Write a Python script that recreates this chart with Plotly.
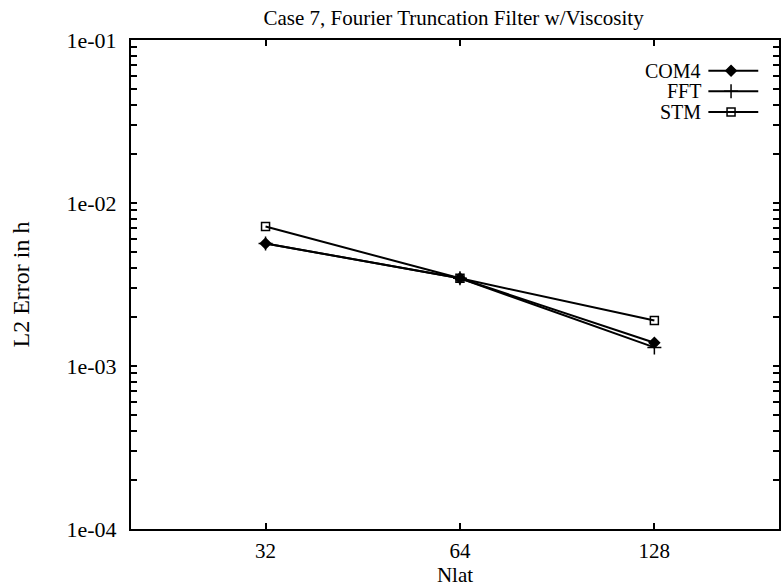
import plotly.graph_objects as go

# ---- data ----
nlat = [32, 64, 128]
com4 = [5.65e-3, 3.45e-3, 1.39e-3]
fft = [5.65e-3, 3.45e-3, 1.30e-3]
stm = [7.18e-3, 3.45e-3, 1.90e-3]
series_names = ["COM4", "FFT", "STM"]
series_symbols = ["diamond", "cross-thin", "square-open"]
x_ticks = [32, 64, 128]
y_ticks = [1e-4, 1e-3, 1e-2, 1e-1]
y_ticktext = ["1e-04", "1e-03", "1e-02", "1e-01"]
y_minor = [m * 10.0 ** e for e in (-4, -3, -2) for m in range(2, 10)]

FONT = "Liberation Serif"
BLACK = "black"

fig = go.Figure()
series = [com4, fft, stm]
for name, vals, sym in zip(series_names, series, series_symbols):
    fig.add_trace(go.Scatter(
        x=nlat, y=vals, mode="lines+markers", name=name, showlegend=False,
        line=dict(color=BLACK, width=2),
        marker=dict(symbol=sym, size=8 if sym != "cross-thin" else 10, color=BLACK,
                    line=dict(color=BLACK, width=1.5)),
    ))

# custom gnuplot-style legend (text left, sample right) on an overlay axis
for i, (name, sym) in enumerate(zip(series_names, series_symbols)):
    yy = 0.937 - i * 0.042
    fig.add_trace(go.Scatter(
        x=[0.891, 0.968], y=[yy, yy], mode="lines", xaxis="x2", yaxis="y2",
        line=dict(color=BLACK, width=2), showlegend=False, hoverinfo="skip"))
    fig.add_trace(go.Scatter(
        x=[0.926], y=[yy], mode="markers", xaxis="x2", yaxis="y2",
        marker=dict(symbol=sym, size=8 if sym != "cross-thin" else 10, color=BLACK,
                    line=dict(color=BLACK, width=1.5)),
        showlegend=False, hoverinfo="skip"))
    fig.add_annotation(x=0.883, y=yy, xref="x2", yref="y2", text=name,
                       showarrow=False, xanchor="right", yanchor="middle",
                       font=dict(family=FONT, size=20, color=BLACK))

# all y ticks (major + minor) on one axis; minor ones get empty labels
y_all = y_ticks + y_minor
y_all_text = y_ticktext + [""] * len(y_minor)

fig.update_layout(
    width=782, height=587,
    margin=dict(l=131, r=1, t=40, b=58),
    paper_bgcolor="white", plot_bgcolor="white",
    font=dict(family=FONT, size=21, color=BLACK),
    title=dict(text="Case 7, Fourier Truncation Filter w/Viscosity",
               x=0.58, xanchor="center", y=0.97, yanchor="middle",
               font=dict(family=FONT, size=21, color=BLACK)),
    xaxis=dict(
        type="log", range=[1.2968, 2.3002],
        tickvals=x_ticks, ticktext=[str(v) for v in x_ticks],
        ticks="inside", ticklen=6, tickwidth=1.5, tickcolor=BLACK,
        ticklabelstandoff=2,
        showline=True, linecolor=BLACK, linewidth=2, mirror="allticks",
        showgrid=False, zeroline=False,
        title=dict(text="Nlat", standoff=3, font=dict(family=FONT, size=21)),
        tickfont=dict(family=FONT, size=21),
    ),
    yaxis=dict(
        type="log", range=[-4, -1],
        tickmode="array", tickvals=y_all, ticktext=y_all_text,
        ticks="inside", ticklen=6, tickwidth=2, tickcolor=BLACK,
        ticklabelstandoff=8,
        showline=True, linecolor=BLACK, linewidth=2, mirror="allticks",
        showgrid=False, zeroline=False,
        title=dict(text="L2 Error in h", standoff=30, font=dict(family=FONT, size=24)),
        tickfont=dict(family=FONT, size=22),
    ),
    xaxis2=dict(overlaying="x", range=[0, 1], visible=False),
    yaxis2=dict(overlaying="y", range=[0, 1], visible=False),
)

fig.write_html("out.html", config={"displayModeBar": False},
               post_script="document.body.style.margin='0';document.body.style.overflow='hidden';")
